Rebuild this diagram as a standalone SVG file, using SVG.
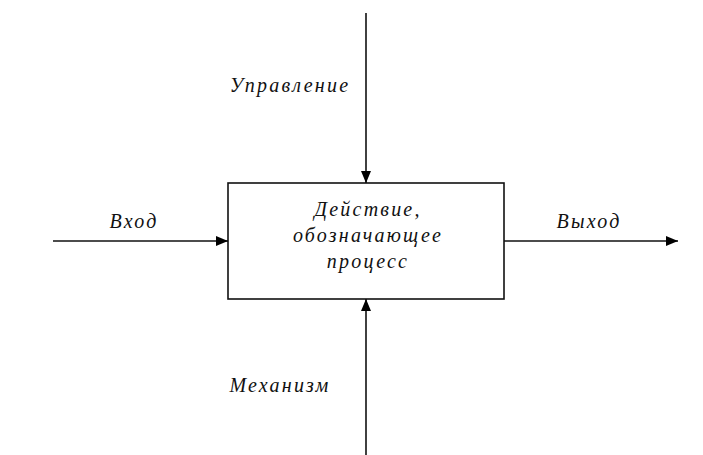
<svg xmlns="http://www.w3.org/2000/svg" width="703" height="455" viewBox="0 0 703 455">
<defs>
<marker id="ah" markerWidth="12" markerHeight="10" refX="12" refY="5" orient="auto" markerUnits="userSpaceOnUse">
<path d="M0,0 L12,5 L0,10 Z" fill="#000"/>
</marker>
<style>
.t{font-family:"Liberation Serif","Times New Roman",serif;font-style:italic;font-size:20px;letter-spacing:2.2px;fill:#111}
.c{stroke:#111;stroke-width:1.6;fill:none}
</style>
</defs>
<rect width="703" height="455" fill="#fff"/>
<g id="process">
<rect x="228" y="183" width="276" height="116" fill="#fff" stroke="#111" stroke-width="1.6"/>
<text class="t" x="368" y="216" text-anchor="middle">Действие,</text>
<text class="t" x="368" y="242" text-anchor="middle">обозначающее</text>
<text class="t" x="368" y="268" text-anchor="middle">процесс</text>
</g>
<g id="connectors">
<line class="c" x1="366" y1="13" x2="366" y2="183" marker-end="url(#ah)"/>
<line class="c" x1="366" y1="455" x2="366" y2="299" marker-end="url(#ah)"/>
<line class="c" x1="53" y1="241" x2="228" y2="241" marker-end="url(#ah)"/>
<line class="c" x1="504" y1="241" x2="678" y2="241" marker-end="url(#ah)"/>
</g>
<g id="label-control"><text class="t" x="290" y="92" text-anchor="middle">Управление</text></g>
<g id="label-mechanism"><text class="t" x="280" y="392" text-anchor="middle">Механизм</text></g>
<g id="label-input"><text class="t" x="134" y="228" text-anchor="middle">Вход</text></g>
<g id="label-output"><text class="t" x="589" y="228" text-anchor="middle">Выход</text></g>
</svg>
